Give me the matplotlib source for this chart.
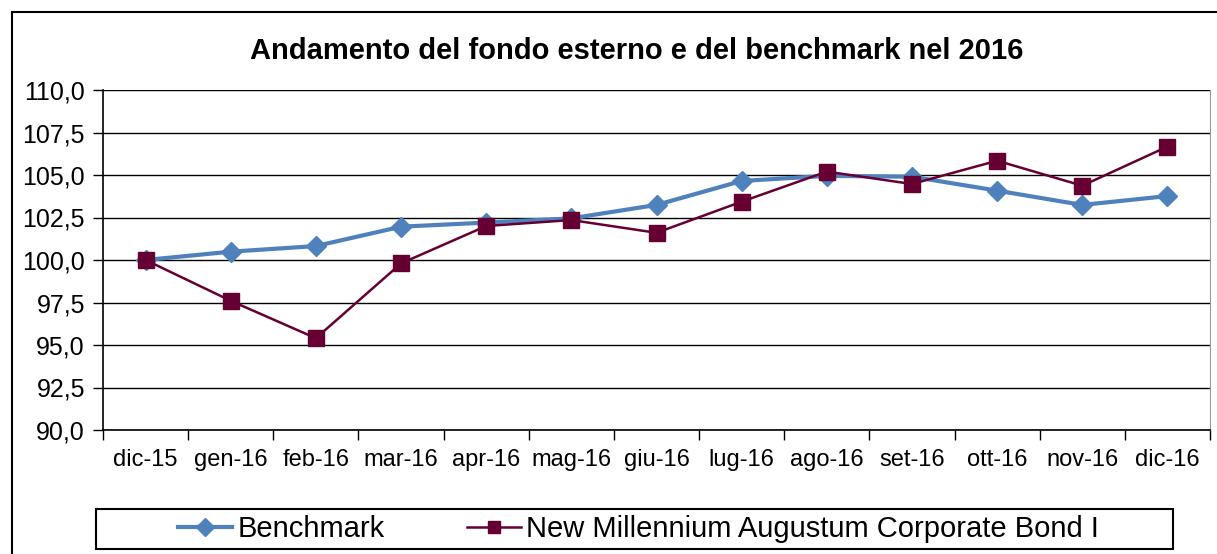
import matplotlib
matplotlib.use('Agg')
import matplotlib.pyplot as plt
import matplotlib.patches as patches
from matplotlib.ticker import FuncFormatter, FixedLocator

plt.rcParams['font.family'] = ['Liberation Sans', 'DejaVu Sans']

# Data (index, dic-15 = 100)
months = ['dic-15', 'gen-16', 'feb-16', 'mar-16', 'apr-16', 'mag-16', 'giu-16',
          'lug-16', 'ago-16', 'set-16', 'ott-16', 'nov-16', 'dic-16']
benchmark = [100.0, 100.49, 100.82, 101.96, 102.2, 102.45, 103.24,
             104.65, 104.95, 104.9, 104.08, 103.24, 103.76]
fondo = [100.0, 97.6, 95.4, 99.8, 102.0, 102.35, 101.6,
         103.43, 105.2, 104.47, 105.84, 104.37, 106.67]

W, H = 1217, 554
fig = plt.figure(figsize=(W / 100, H / 100), dpi=100)

# plot area in pixel coords: x 103..1210, y 90..430
ax = fig.add_axes([103 / W, 1 - 430 / H, (1210 - 103) / W, 340 / H])

x = list(range(len(months)))
ax.plot(x, benchmark, color='#4F81BD', lw=3.0, marker='D', markersize=10,
        label='Benchmark', zorder=3)
ax.plot(x, fondo, color='#660033', lw=1.8, marker='s', markersize=12,
        label='New Millennium Augustum Corporate Bond I', zorder=4)

ax.set_xlim(-0.5, len(months) - 0.5)
ax.set_ylim(90, 110)

# y axis
ax.set_yticks([90 + 2.5 * i for i in range(9)])
ax.yaxis.set_major_formatter(FuncFormatter(lambda v, p: f'{v:.1f}'.replace('.', ',')))
ax.tick_params(axis='y', direction='out', length=7, width=1, labelsize=18,
               pad=6, colors='black')
ax.grid(axis='y', color='black', lw=1.0)

# x axis: labels centred on points, ticks between categories
ax.set_xticks(x)
ax.set_xticklabels(months)
ax.xaxis.set_minor_locator(FixedLocator([i - 0.5 for i in range(len(months) + 1)]))
ax.tick_params(axis='x', which='major', length=0, labelsize=17, pad=14)
ax.tick_params(axis='x', which='minor', direction='out', length=7, width=1)

ax.spines['top'].set_visible(False)
ax.spines['right'].set_color('#999999')
ax.spines['left'].set_linewidth(1.2)
ax.spines['bottom'].set_linewidth(1.2)

# title
fig.text(637 / W, 1 - 51 / H, 'Andamento del fondo esterno e del benchmark nel 2016',
         ha='center', va='center', fontsize=21, fontweight='bold')

# legend with a manual frame
leg = fig.legend(loc='center left', bbox_to_anchor=(178 / W, 1 - 529 / H),
                 ncol=2, frameon=False, fontsize=21, handlelength=1.85,
                 handletextpad=0.2, columnspacing=2.8, borderpad=0,
                 borderaxespad=0)
for h in leg.legend_handles:
    h.set_markersize(9)
fig.patches.append(patches.Rectangle((96 / W, 1 - 549 / H), (1173 - 96) / W, 40 / H,
                                     transform=fig.transFigure, fill=False,
                                     edgecolor='black', lw=1.5))

# outer chart border (right/bottom edges cropped)
fig.patches.append(patches.Rectangle((12 / W, -0.1), 1.2, 1.1 - 12 / H,
                                     transform=fig.transFigure, fill=False,
                                     edgecolor='black', lw=1.5))

fig.savefig('out.png', dpi=100)
